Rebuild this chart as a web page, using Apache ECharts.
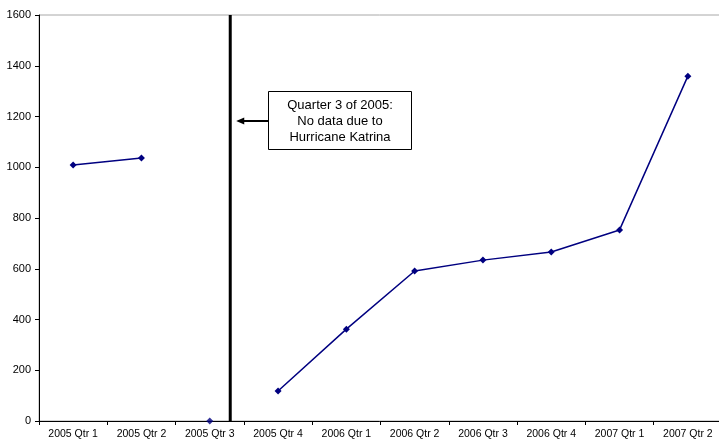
<!DOCTYPE html>
<html><head><meta charset="utf-8">
<script src="https://cdn.jsdelivr.net/npm/echarts@6/dist/echarts.min.js"></script>
<style>html,body{margin:0;padding:0;background:#fff}#c{width:719px;height:443px}</style>
</head><body><div id="c"></div>
<script>
const categories = ['2005 Qtr 1','2005 Qtr 2','2005 Qtr 3','2005 Qtr 4','2006 Qtr 1','2006 Qtr 2','2006 Qtr 3','2006 Qtr 4','2007 Qtr 1','2007 Qtr 2'];
const values = [1009, 1036, 0, 118, 362, 591, 634, 666, 753, 1359];
const gapIndex = 2; // Quarter 3 of 2005: no data (Hurricane Katrina)
const yMin = 0, yMax = 1600, yInterval = 200;
const noteLines = ['Quarter 3 of 2005:', 'No data due to', 'Hurricane Katrina'];

const lineData = values.map((v, i) => i === gapIndex ? '-' : v);
const gapData = values.map((v, i) => i === gapIndex ? v : '-');

const chart = echarts.init(document.getElementById('c'));
const font = 'Arial, "Liberation Sans", sans-serif';
chart.setOption({
  animation: false,
  grid: { left: 39, top: 15, width: 683, height: 406, outerBoundsMode: 'none', containLabel: false,
          show: true, borderColor: '#a8a8a8', borderWidth: 1, backgroundColor: 'transparent' },
  xAxis: {
    type: 'category', data: categories, boundaryGap: true,
    axisLine: { lineStyle: { color: '#000', width: 1 } },
    axisTick: { show: true, length: 4, lineStyle: { color: '#000' } },
    axisLabel: { interval: 0, fontSize: 10.5, color: '#000', fontFamily: font, margin: 8 },
    splitLine: { show: false }
  },
  yAxis: {
    type: 'value', min: yMin, max: yMax, interval: yInterval,
    axisLine: { show: true, lineStyle: { color: '#000', width: 1 } },
    axisTick: { show: true, length: 4, lineStyle: { color: '#000' } },
    axisLabel: { fontSize: 11, color: '#000', fontFamily: font, margin: 8, formatter: v => String(v) },
    splitLine: { show: false }
  },
  series: [
    { type: 'line', data: lineData, connectNulls: false, symbol: 'diamond', symbolSize: 7,
      itemStyle: { color: '#000080' }, lineStyle: { color: '#000080', width: 1.5 } },
    { type: 'scatter', data: gapData, symbol: 'diamond', symbolSize: 7, itemStyle: { color: '#000080' } }
  ]
});

const x2 = chart.convertToPixel({ xAxisIndex: 0 }, gapIndex);
const x3 = chart.convertToPixel({ xAxisIndex: 0 }, gapIndex + 1);
const lineX = x2 + 0.3 * (x3 - x2);
const yTop = chart.convertToPixel({ yAxisIndex: 0 }, yMax);
const yBot = chart.convertToPixel({ yAxisIndex: 0 }, yMin);
const boxX = 268.5, boxY = 91.5, boxW = 143, boxH = 58;
const arrowY = 121;
chart.setOption({
  graphic: [
    { type: 'line', shape: { x1: lineX, y1: yTop, x2: lineX, y2: yBot }, style: { stroke: '#000', lineWidth: 3 }, z: 100 },
    { type: 'line', shape: { x1: boxX, y1: arrowY, x2: lineX + 12, y2: arrowY }, style: { stroke: '#000', lineWidth: 2 }, z: 100 },
    { type: 'polygon', shape: { points: [[lineX + 6, arrowY], [lineX + 14, arrowY - 3.5], [lineX + 14, arrowY + 3.5]] }, style: { fill: '#000' }, z: 100 },
    { type: 'rect', shape: { x: boxX, y: boxY, width: boxW, height: boxH }, style: { fill: '#fff', stroke: '#000', lineWidth: 1 }, z: 100 },
    { type: 'text', x: boxX + boxW / 2, y: boxY + boxH / 2 + 0.5, z: 101,
      style: { text: noteLines.join('\n'), fontSize: 13, fontFamily: font, fill: '#000', align: 'center', verticalAlign: 'middle', lineHeight: 16 } }
  ]
});
</script>
</body></html>
